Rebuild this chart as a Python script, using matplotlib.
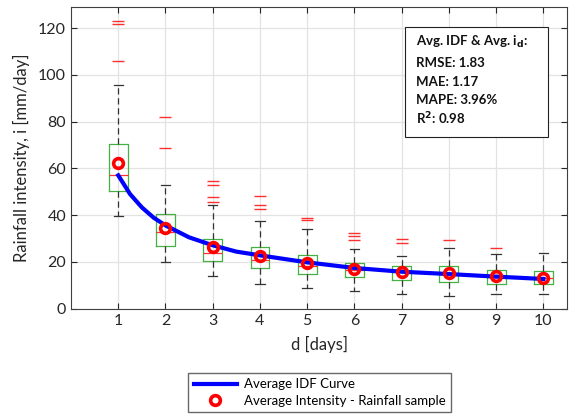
import numpy as np
import matplotlib
matplotlib.use("Agg")
import matplotlib.pyplot as plt
from matplotlib.patches import Rectangle

plt.rcParams['font.family'] = ['Lato', 'DejaVu Sans']

# Box statistics (mm/day)
days = [1, 2, 3, 4, 5, 6, 7, 8, 9, 10]
q1 = [50.3, 26.8, 20.4, 17.4, 14.8, 13.6, 12.2, 11.3, 10.7, 10.6]
med = [57.2, 32.6, 23.7, 20.8, 18.1, 16.5, 15.8, 14.8, 13.4, 13.1]
q3 = [70.3, 40.4, 29.8, 26.2, 23.1, 19.4, 18.3, 18.3, 16.7, 16.0]
wlo = [39.6, 20.1, 14.1, 10.6, 9.0, 7.4, 6.4, 5.6, 6.3, 6.3]
whi = [95.5, 52.9, 44.3, 37.5, 34.2, 25.5, 22.6, 25.8, 23.3, 23.7]
outliers = [
    [123.0, 121.7, 105.9],
    [82.0, 68.6],
    [54.7, 52.9, 47.6, 45.8],
    [48.2, 44.2, 42.5],
    [38.6, 37.8],
    [32.2, 31.1, 29.4],
    [29.6, 28.2],
    [29.2],
    [25.9],
    [],
]
mean_int = [62.4, 34.6, 26.5, 22.5, 19.4, 17.1, 15.7, 15.4, 14.0, 13.1]

# Average IDF curve
idf_d = [1, 1.25, 1.5, 1.75, 2, 2.5, 3, 3.5, 4, 5, 6, 7, 8, 9, 10]
idf_i = [57.0, 49.0, 43.3, 38.9, 35.6, 30.5, 27.1, 24.4, 22.8, 19.8, 17.4, 15.8, 14.8, 13.7, 12.7]

# fit statistics shown in the text box
stat_lines = ['RMSE: 1.83', 'MAE: 1.17', 'MAPE: 3.96%', 'R$^\\mathbf{2}$: 0.98']

fig = plt.figure(figsize=(5.69, 4.16), dpi=100)
ax = fig.add_axes([0.1248, 0.258, 0.8717, 0.7252])

stats = []
for k in range(len(days)):
    stats.append({'q1': q1[k], 'med': med[k], 'q3': q3[k],
                  'whislo': wlo[k], 'whishi': whi[k], 'fliers': outliers[k]})

ax.bxp(stats, positions=days, widths=0.4, showfliers=True,
       boxprops=dict(color='#45b043', linewidth=0.9),
       medianprops=dict(color='#ff3030', linewidth=0.9),
       whiskerprops=dict(color='#333333', linestyle=(0, (5, 3)), linewidth=0.9),
       capprops=dict(color='#333333', linewidth=0.9),
       capwidths=0.2,
       flierprops=dict(marker='_', markeredgecolor='#ff3030', markersize=8,
                       markeredgewidth=1.0, linestyle='none'),
       manage_ticks=False, zorder=3)

line, = ax.plot(idf_d, idf_i, color='#0000ff', linewidth=3, zorder=4,
                label='Average IDF Curve')
pts, = ax.plot(days, mean_int, linestyle='none', marker='o', markersize=7,
               markerfacecolor='none', markeredgecolor='#ff0000',
               markeredgewidth=2.6, zorder=5,
               label='Average Intensity - Rainfall sample')

ax.set_xlim(0, 10.5)
ax.set_ylim(0, 129)
ax.set_xticks(days)
ax.set_yticks([0, 20, 40, 60, 80, 100, 120])
ax.grid(True, color='#e3e3e3', linewidth=0.9)
ax.set_axisbelow(True)
ax.tick_params(direction='in', top=True, right=True, length=4,
               labelsize=11.5, colors='#262626', width=0.8)
for s in ax.spines.values():
    s.set_color('#404040')
    s.set_linewidth(0.8)

ax.set_xlabel('d [days]', fontsize=12, color='#262626', labelpad=6)
ax.set_ylabel('Rainfall intensity, i [mm/day]', fontsize=12, color='#262626',
              labelpad=6)

# text box with the error metrics
ax.add_patch(Rectangle((0.6728, 0.570), 0.2882, 0.3637, transform=ax.transAxes,
                       facecolor='white', edgecolor='#222222', linewidth=0.8,
                       zorder=6))
ax.text(0.695, 0.884, 'Avg. IDF & Avg. i$_\\mathbf{d}$:', transform=ax.transAxes,
        fontsize=9.5, fontweight='bold', va='center', ha='left',
        color='#111111', zorder=7)
for k, s in enumerate(stat_lines):
    ax.text(0.695, 0.8144 - k * 0.0618, s, transform=ax.transAxes,
            fontsize=9.5, fontweight='bold', va='center', ha='left',
            color='#111111', zorder=7)

fig.legend(handles=[line, pts], loc='center', bbox_to_anchor=(0.5615, 0.0565),
           fontsize=9.5, frameon=True, fancybox=False, edgecolor='#444444',
           borderpad=0.4, labelspacing=0.35, handlelength=3.3,
           handletextpad=0.5, borderaxespad=0)

fig.savefig('out.png', dpi=100)
